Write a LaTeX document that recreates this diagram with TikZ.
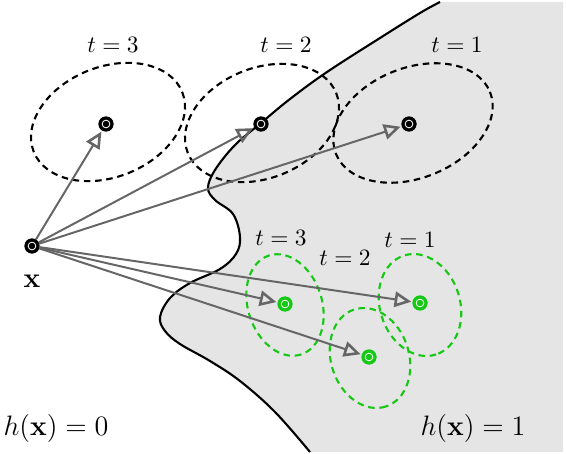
\documentclass[tikz,border=0pt]{standalone}
\usepackage{amsmath}
\usepackage{xcolor}
\usepackage{tikz}
\usetikzlibrary{arrows.meta}

\definecolor{advgreen}{RGB}{20,200,20}

\begin{document}
\begin{tikzpicture}[
    x=0.015cm, y=-0.015cm,
    % --- data points (black = clean, green = adversarial) ---
    ptblack/.style={circle, fill=black, draw=black, minimum size=0.215cm, inner sep=0pt,
                    path picture={\draw[white, line width=0.35pt]
                      (path picture bounding box.center) circle (0.058cm);}},
    ptgreen/.style={ptblack, fill=advgreen, draw=advgreen},
    % --- perturbation balls ---
    ball/.style={draw=black, line width=0.9pt, dash pattern=on 2.8pt off 2pt},
    gball/.style={ball, draw=advgreen},
    % --- attack direction ---
    attack/.style={-{Triangle[open, length=2.5mm, width=2.3mm, line width=1.1pt]},
                   black!60, line width=0.85pt, shorten >=0.5pt},
    region/.style={fill=black!10},
    bound/.style={draw=black, line width=0.9pt},
  ]
  \useasboundingbox (0,0) rectangle (566,454);

  % ---- decision region h(x)=1 -------------------------------------------
  \fill[region] plot[smooth, tension=0.6] coordinates {(440,2) (420,13) (380,38)
      (327,72) (290,99) (261,123) (235,145) (215,170) (208,188) (215,200)
      (233,214) (240,237) (236,254) (220,269) (190,283) (170,298) (160,317)
      (165,331) (180,344) (210,361) (240,381) (275,412) (310,452)}
      -- (563,452) -- (563,2) -- cycle;
  \draw[bound] plot[smooth, tension=0.6] coordinates {(440,2) (420,13) (380,38)
      (327,72) (290,99) (261,123) (235,145) (215,170) (208,188) (215,200)
      (233,214) (240,237) (236,254) (220,269) (190,283) (170,298) (160,317)
      (165,331) (180,344) (210,361) (240,381) (275,412) (310,452)};

  % ---- perturbation balls -------------------------------------------------
  \draw[ball, rotate around={22:(108,122)}] (108,122) ellipse [x radius=80, y radius=55];
  \draw[ball, rotate around={22:(262,123)}] (262,123) ellipse [x radius=80, y radius=55];
  \draw[ball, rotate around={22:(413,123)}] (413,123) ellipse [x radius=83, y radius=55];
  \draw[gball, rotate around={-72:(285,305)}] (285,305) ellipse [x radius=52, y radius=37];
  \draw[gball, rotate around={-72:(420,305)}] (420,305) ellipse [x radius=52, y radius=40];
  \draw[gball, rotate around={-72:(370,358)}] (370,358) ellipse [x radius=51, y radius=39];

  % ---- points -------------------------------------------------------------
  \node[ptblack] (x) at (32,246) {};
  \node[font=\large] (xlab) at (32,281) {$\mathbf{x}$};

  \node[ptblack] (b3) at (106,124) {};
  \node[ptblack] (b2) at (261,124) {};
  \node[ptblack] (b1) at (409,124) {};
  \node[ptgreen] (g3) at (285,304) {};
  \node[ptgreen] (g1) at (420,303) {};
  \node[ptgreen] (g2) at (369,357) {};

  % ---- step labels --------------------------------------------------------
  \node (lb3) at (113,45) {$t=3$};
  \node (lb2) at (286,45) {$t=2$};
  \node (lb1) at (457,45) {$t=1$};
  \node (lg3) at (281,238) {$t=3$};
  \node (lg2) at (345,258) {$t=2$};
  \node (lg1) at (410,240) {$t=1$};

  \node[font=\large] (h0) at (56,428) {$h(\mathbf{x})=0$};
  \node[font=\large] (h1) at (473,428) {$h(\mathbf{x})=1$};

  % ---- attacks from x -----------------------------------------------------
  \foreach \p in {b3,b2,b1,g3,g1,g2}
    \draw[attack] (x) -- (\p);

\end{tikzpicture}
\end{document}
